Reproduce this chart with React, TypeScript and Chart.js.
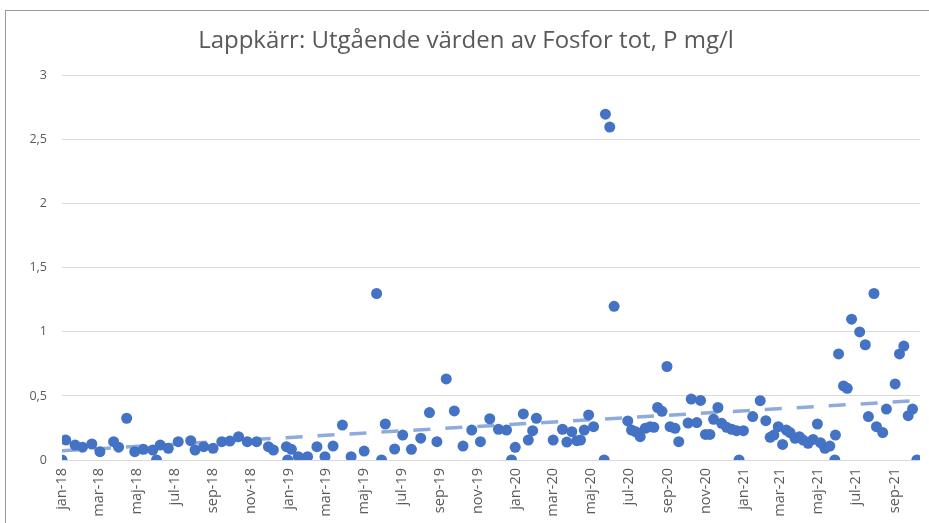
import React, { useEffect, useRef } from "react";
import { Chart, registerables } from "chart.js";

Chart.register(...registerables);

const chartTitle = "Lappkärr: Utgående värden av Fosfor tot, P mg/l";

const tickLabels = [
  "jan-18", "mar-18", "maj-18", "jul-18", "sep-18", "nov-18",
  "jan-19", "mar-19", "maj-19", "jul-19", "sep-19", "nov-19",
  "jan-20", "mar-20", "maj-20", "jul-20", "sep-20", "nov-20",
  "jan-21", "mar-21", "maj-21", "jul-21", "sep-21",
];
const tickDates = [
  "2018-01-01", "2018-03-01", "2018-05-01", "2018-07-01", "2018-09-01", "2018-11-01",
  "2019-01-01", "2019-03-01", "2019-05-01", "2019-07-01", "2019-09-01", "2019-11-01",
  "2020-01-01", "2020-03-01", "2020-05-01", "2020-07-01", "2020-09-01", "2020-11-01",
  "2021-01-01", "2021-03-01", "2021-05-01", "2021-07-01", "2021-09-01",
];

// sample day (days since 1 Jan 2018)
const sampleDays = [
  0, 6, 21, 33, 48, 61, 83, 91, 104, 117, 131, 146, 152, 158, 171, 187, 207, 214, 228, 243,
  257, 270, 284, 298, 313, 332, 340, 361, 363, 369, 380, 395, 410, 423, 436, 451, 465, 486, 506, 514,
  520, 535, 548, 562, 577, 591, 603, 618, 631, 645, 659, 673, 688, 702, 715, 723, 729, 742, 750, 757,
  763, 790, 805, 812, 820, 828, 834, 840, 847, 855, 872, 874, 881, 888, 910, 916, 923, 930, 938, 946,
  952, 958, 965, 973, 978, 986, 992, 1007, 1012, 1021, 1027, 1035, 1042, 1048, 1055, 1061, 1069, 1077, 1085, 1089,
  1096, 1111, 1123, 1132, 1139, 1145, 1152, 1159, 1165, 1171, 1179, 1186, 1192, 1200, 1208, 1215, 1220, 1227, 1235, 1243,
  1244, 1249, 1257, 1263, 1270, 1283, 1292, 1297, 1306, 1310, 1320, 1326, 1340, 1347, 1354, 1361, 1368, 1375,
];
// Fosfor tot, P mg/l
const phosphorus = [
  0, 0.156, 0.117, 0.1, 0.125, 0.065, 0.143, 0.1, 0.326, 0.065, 0.083, 0.078, 0, 0.117, 0.091, 0.143, 0.151, 0.078, 0.104, 0.091,
  0.143, 0.148, 0.182, 0.143, 0.143, 0.104, 0.078, 0.104, 0, 0.083, 0.026, 0.026, 0.104, 0.026, 0.109, 0.273, 0.026, 0.07, 1.3, 0,
  0.281, 0.086, 0.195, 0.083, 0.17, 0.37, 0.143, 0.633, 0.383, 0.109, 0.234, 0.143, 0.322, 0.24, 0.234, 0, 0.099, 0.36, 0.156, 0.229,
  0.326, 0.156, 0.24, 0.14, 0.221, 0.151, 0.156, 0.234, 0.352, 0.26, 0, 2.7, 2.6, 1.2, 0.305, 0.234, 0.22, 0.182, 0.247, 0.26,
  0.255, 0.41, 0.38, 0.73, 0.26, 0.247, 0.143, 0.289, 0.476, 0.292, 0.465, 0.2, 0.2, 0.318, 0.41, 0.286, 0.255, 0.24, 0.229, 0,
  0.229, 0.339, 0.463, 0.307, 0.177, 0.195, 0.26, 0.122, 0.234, 0.214, 0.169, 0.182, 0.156, 0.13, 0.161, 0.281, 0.135, 0.091, 0.109, 0,
  0.195, 0.828, 0.578, 0.56, 1.1, 1.0, 0.9, 0.339, 1.3, 0.26, 0.214, 0.398, 0.594, 0.828, 0.89, 0.346, 0.398, 0,
];

const yTicks = [0, 0.5, 1, 1.5, 2, 2.5, 3];

const DAY0 = Date.UTC(2018, 0, 1);
const dayOf = (iso: string) => Math.round((Date.parse(iso + "T00:00:00Z") - DAY0) / 86400000);

function linearFit(xs: number[], ys: number[]) {
  const n = xs.length;
  let sx = 0, sy = 0, sxx = 0, sxy = 0;
  for (let i = 0; i < n; i++) {
    sx += xs[i]; sy += ys[i]; sxx += xs[i] * xs[i]; sxy += xs[i] * ys[i];
  }
  const b = (n * sxy - sx * sy) / (n * sxx - sx * sx);
  const a = (sy - b * sx) / n;
  return { a, b };
}

export default function App() {
  const ref = useRef<HTMLCanvasElement | null>(null);

  useEffect(() => {
    if (!ref.current) return;
    const points = sampleDays.map((d, i) => ({ x: d, y: phosphorus[i] }));
    const fit = linearFit(sampleDays, phosphorus);
    const x0 = sampleDays[0];
    const x1 = sampleDays[sampleDays.length - 1];
    const trend = [
      { x: x0, y: fit.a + fit.b * x0 },
      { x: x1, y: fit.a + fit.b * x1 },
    ];
    const tickValues = tickDates.map(dayOf);
    const font = "'Open Sans', 'DejaVu Sans', sans-serif";

    const chart = new Chart(ref.current, {
      type: "scatter",
      data: {
        datasets: [
          {
            label: "Trend",
            data: trend,
            showLine: true,
            borderColor: "#8FAADC",
            borderWidth: 3.5,
            borderDash: [17, 15],
            pointRadius: 0,
            order: 2,
          },
          {
            label: "Fosfor tot, P mg/l",
            data: points,
            backgroundColor: "#4472C4",
            borderWidth: 0,
            pointRadius: 5.5,
            order: 1,
          },
        ],
      },
      options: {
        responsive: false,
        animation: false,
        layout: { padding: { left: 12, right: 9, top: 0, bottom: 0 } },
        plugins: {
          legend: { display: false },
          tooltip: { enabled: false },
          title: {
            display: true,
            text: chartTitle,
            color: "#595959",
            font: { family: font, size: 24, weight: "normal", lineHeight: 1.2 },
            padding: { top: 27, bottom: 20 },
          },
        },
        scales: {
          x: {
            type: "linear",
            min: 0,
            max: 1380,
            grid: { display: false, drawTicks: false },
            border: { display: false },
            afterBuildTicks: (scale: any) => {
              scale.ticks = tickValues.map((v) => ({ value: v }));
            },
            afterFit: (scale: any) => {
              scale.height = 63;
            },
            ticks: {
              autoSkip: false,
              maxRotation: 90,
              minRotation: 90,
              padding: 8,
              color: "#595959",
              font: { family: font, size: 14.5 },
              callback: (_v: any, i: number) => tickLabels[i],
            },
          },
          y: {
            min: 0,
            max: 3,
            afterBuildTicks: (scale: any) => {
              scale.ticks = yTicks.map((v) => ({ value: v }));
            },
            afterFit: (scale: any) => {
              scale.width = 50;
            },
            grid: { color: "#D9D9D9", lineWidth: 1, drawTicks: false },
            border: { display: false },
            ticks: {
              padding: 15,
              color: "#595959",
              font: { family: font, size: 12.5 },
              callback: (v: any) => String(v).replace(".", ","),
            },
          },
        },
      },
    } as any);
    return () => chart.destroy();
  }, []);

  return (
    <div style={{ position: "fixed", left: 0, top: 0, width: 929, height: 523, background: "#fff", overflow: "hidden" }}>
      <canvas ref={ref} width={929} height={523} style={{ position: "absolute", left: 0, top: 0 }} />
      <div
        style={{
          position: "absolute",
          left: 5,
          top: 10,
          width: 1000,
          height: 1000,
          borderLeft: "1px solid #9A9A9A",
          borderTop: "1px solid #9A9A9A",
          pointerEvents: "none",
        }}
      />
    </div>
  );
}
